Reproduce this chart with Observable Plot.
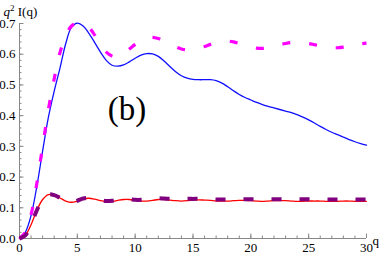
<!DOCTYPE html>
<html>
<head>
<meta charset="utf-8">
<script src="https://cdn.jsdelivr.net/npm/d3@7"></script>
<script src="https://cdn.jsdelivr.net/npm/@observablehq/plot@0.6"></script>
<style>
  html, body { margin: 0; padding: 0; background: white; }
  svg text { font-family: "Liberation Serif", "Times New Roman", serif; }
</style>
</head>
<body>
<div id="chart"></div>
<script>
const q = [0,0.5,1,1.5,2,2.5,3,3.5,4,4.5,5,5.5,6,6.5,7,7.5,8,8.5,9,9.5,10,10.5,11,11.5,12,12.5,13,13.5,14,14.5,15,15.5,16,16.5,17,17.5,18,18.5,19,19.5,20,20.5,21,21.5,22,22.5,23,23.5,24,24.5,25,25.5,26,26.5,27,27.5,28,28.5,29,29.5,30];

const blueSolid = [0,0.02,0.075,0.17,0.285,0.395,0.48,0.555,0.635,0.688,0.701,0.692,0.668,0.638,0.607,0.58,0.564,0.561,0.565,0.575,0.587,0.597,0.602,0.601,0.593,0.578,0.56,0.543,0.53,0.522,0.518,0.517,0.517,0.517,0.514,0.506,0.494,0.481,0.469,0.459,0.451,0.443,0.436,0.43,0.425,0.42,0.415,0.41,0.403,0.395,0.386,0.376,0.365,0.355,0.346,0.338,0.33,0.322,0.315,0.309,0.304];

const magentaDashed = [0,0.02,0.078,0.18,0.3,0.42,0.52,0.605,0.66,0.692,0.701,0.7,0.688,0.662,0.63,0.607,0.594,0.592,0.602,0.617,0.632,0.645,0.653,0.655,0.651,0.643,0.634,0.624,0.617,0.614,0.615,0.619,0.625,0.632,0.638,0.642,0.643,0.64,0.635,0.629,0.624,0.62,0.619,0.621,0.626,0.631,0.635,0.638,0.639,0.638,0.635,0.631,0.627,0.623,0.621,0.621,0.623,0.627,0.631,0.634,0.636];

const redSolid = [0,0.01,0.045,0.092,0.127,0.143,0.141,0.132,0.122,0.118,0.122,0.129,0.131,0.128,0.123,0.12,0.12,0.124,0.127,0.127,0.124,0.122,0.122,0.124,0.127,0.127,0.125,0.123,0.122,0.123,0.125,0.126,0.125,0.124,0.122,0.122,0.122,0.123,0.124,0.124,0.123,0.122,0.121,0.122,0.123,0.123,0.123,0.122,0.121,0.121,0.122,0.122,0.122,0.121,0.121,0.121,0.122,0.122,0.121,0.121,0.121];

const purpleDashed = [0,0.01,0.045,0.092,0.127,0.143,0.141,0.132,0.122,0.119,0.123,0.13,0.132,0.129,0.125,0.122,0.123,0.126,0.128,0.128,0.126,0.126,0.128,0.13,0.131,0.13,0.129,0.128,0.128,0.129,0.129,0.129,0.128,0.127,0.127,0.127,0.127,0.127,0.127,0.128,0.128,0.128,0.128,0.128,0.128,0.128,0.128,0.128,0.128,0.128,0.128,0.127,0.127,0.127,0.127,0.127,0.127,0.127,0.127,0.127,0.127];

const xMajorTicks = [0,5,10,15,20,25,30];
const xMinorTicks = d3.range(0, 31, 1);
const yMajorTicks = [0,0.1,0.2,0.3,0.4,0.5,0.6,0.7];
const yMinorTicks = d3.range(0, 0.701, 0.02);

const yAxisTitle = "q2 I(q)";
const xAxisTitle = "q";
const panelLabel = "(b)";

const rows = (vals) => q.map((x, i) => ({q: x, v: vals[i]}));
const axisColor = "#888";
const serif = "Liberation Serif";

const chart = Plot.plot({
  width: 382,
  height: 254,
  marginLeft: 19,
  marginRight: 16,
  marginTop: 23,
  marginBottom: 16,
  style: {fontFamily: serif, fontSize: "13px", background: "white", color: "black"},
  x: {domain: [0, 30]},
  y: {domain: [0, 0.7]},
  marks: [
    Plot.ruleY([0], {stroke: axisColor, strokeWidth: 1}),
    Plot.ruleX([0], {stroke: axisColor, strokeWidth: 1}),
    Plot.axisX(xMinorTicks, {tickSize: -2.5, text: null, stroke: axisColor, label: null}),
    Plot.axisX(xMajorTicks, {tickSize: -4.5, text: null, stroke: axisColor, label: null}),
    Plot.axisX(xMajorTicks, {tickSize: 0, tickPadding: 4, fill: "black", label: null, fontFamily: serif, fontSize: 13, tickFormat: d3.format("d")}),
    Plot.axisY(yMinorTicks, {tickSize: -2.5, text: null, stroke: axisColor, label: null}),
    Plot.axisY(yMajorTicks, {tickSize: -4.5, text: null, stroke: axisColor, label: null}),
    Plot.axisY(yMajorTicks, {tickSize: 0, tickPadding: 4, fill: "black", label: null, fontFamily: serif, fontSize: 13, tickFormat: d3.format(".1f")}),
    Plot.line(rows(blueSolid), {x: "q", y: "v", stroke: "#1010ff", strokeWidth: 1.3, curve: "catmull-rom"}),
    Plot.line(rows(redSolid), {x: "q", y: "v", stroke: "#ff0000", strokeWidth: 1.3, curve: "catmull-rom"}),
    Plot.line(rows(magentaDashed), {x: "q", y: "v", stroke: "#ff00ff", strokeWidth: 3.2, strokeDasharray: "8,19", strokeLinecap: "butt", curve: "catmull-rom"}),
    Plot.line(rows(purpleDashed), {x: "q", y: "v", stroke: "#800080", strokeWidth: 4, strokeDasharray: "10,18", strokeLinecap: "butt", curve: "catmull-rom"}),
    Plot.text([xAxisTitle], {x: 30, y: 0, dx: 6, dy: 2, textAnchor: "start", lineAnchor: "middle", fill: "black", fontFamily: serif, fontSize: 13}),
    Plot.text([yAxisTitle], {x: 0, y: 0.7, dx: -16, dy: -12, textAnchor: "start", lineAnchor: "middle", fill: "black", fontFamily: serif, fontSize: 13, className: "ylab"}),
    Plot.text([panelLabel], {x: 9.3, y: 0.42, fill: "black", fontFamily: serif, fontSize: 33, lineAnchor: "middle"})
  ]
});

// superscript in the y-axis title
const t = chart.querySelector("g.ylab text");
if (t) {
  const ns = "http://www.w3.org/2000/svg";
  t.textContent = "";
  const a = document.createElementNS(ns, "tspan"); a.setAttribute("font-style", "italic"); a.textContent = "q";
  const b = document.createElementNS(ns, "tspan"); b.setAttribute("dy", "-5"); b.setAttribute("font-size", "9"); b.textContent = "2";
  const c = document.createElementNS(ns, "tspan"); c.setAttribute("dy", "5"); c.textContent = " I(q)";
  t.append(a, b, c);
}

document.getElementById("chart").append(chart);
</script>
</body>
</html>
